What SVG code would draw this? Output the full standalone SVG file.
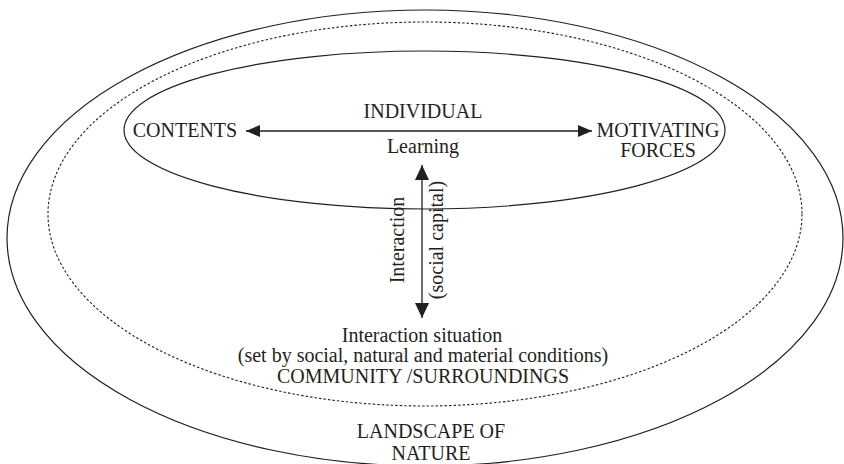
<svg xmlns="http://www.w3.org/2000/svg" width="844" height="464" viewBox="0 0 844 464">
<style>
  .ring{fill:none;stroke:#231f20;stroke-width:1.2}
  .dot{fill:none;stroke:#231f20;stroke-width:1.1;stroke-dasharray:2.5 2}
  .lbl{font-family:"Liberation Serif","Times New Roman",serif;font-size:20px;fill:#231f20;text-anchor:middle}
  .conn{stroke:#231f20;stroke-width:1.3;fill:none}
</style>
<defs>
  <marker id="ah" viewBox="0 0 14 12" refX="14" refY="6" markerWidth="14" markerHeight="12" markerUnits="userSpaceOnUse" orient="auto-start-reverse">
    <path d="M0,0 L14,6 L0,12 Z" fill="#231f20"/>
  </marker>
  <marker id="av" viewBox="0 0 15 14" refX="15" refY="7" markerWidth="15" markerHeight="14" markerUnits="userSpaceOnUse" orient="auto-start-reverse">
    <path d="M0,0 L15,7 L0,14 Z" fill="#231f20"/>
  </marker>
</defs>
<rect width="844" height="464" fill="#ffffff"/>
<g id="landscape">
  <ellipse class="ring" cx="425" cy="238" rx="418" ry="228"/>
  <text class="lbl" x="431" y="438">LANDSCAPE OF</text>
  <text class="lbl" x="431" y="460">NATURE</text>
</g>
<g id="community">
  <ellipse class="dot" cx="425" cy="214" rx="377" ry="192"/>
  <text class="lbl" x="422" y="342">Interaction situation</text>
  <text class="lbl" x="423" y="362">(set by social, natural and material conditions)</text>
  <text class="lbl" x="423" y="383">COMMUNITY /SURROUNDINGS</text>
</g>
<g id="individual">
  <ellipse class="ring" cx="424.5" cy="130" rx="300.5" ry="79"/>
  <text class="lbl" x="423" y="118">INDIVIDUAL</text>
  <text class="lbl" x="423" y="153">Learning</text>
</g>
<g id="contents">
  <text class="lbl" x="185" y="137">CONTENTS</text>
</g>
<g id="motivating">
  <text class="lbl" x="658" y="137">MOTIVATING</text>
  <text class="lbl" x="658" y="157">FORCES</text>
</g>
<g id="connectors">
  <line class="conn" x1="246" y1="131" x2="592" y2="131" marker-start="url(#ah)" marker-end="url(#ah)"/>
  <line class="conn" x1="422" y1="165" x2="422" y2="318" marker-start="url(#av)" marker-end="url(#av)"/>
  <text class="lbl" transform="translate(403.5,240) rotate(-90)">Interaction</text>
  <text class="lbl" transform="translate(443,240) rotate(-90)">(social capital)</text>
</g>
</svg>
